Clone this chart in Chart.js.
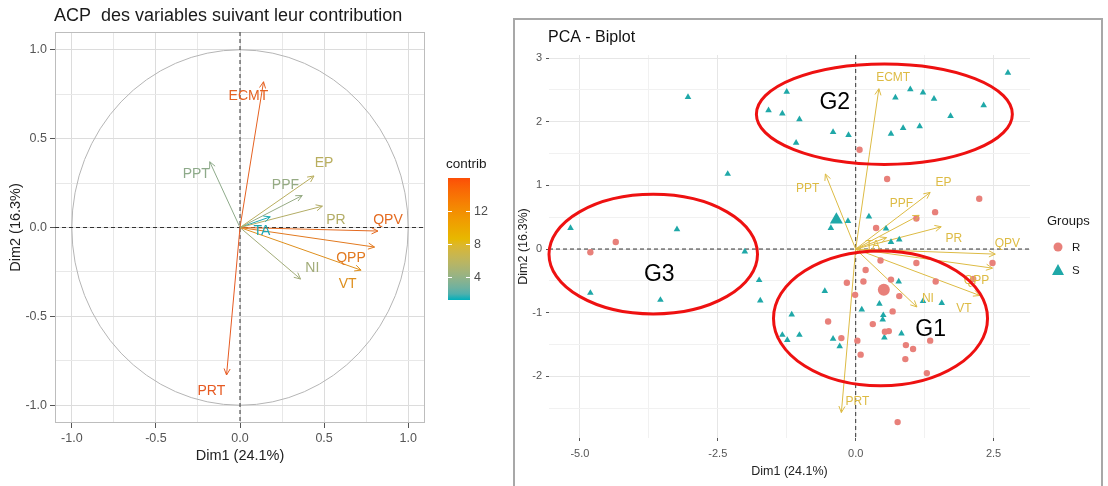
<!DOCTYPE html>
<html>
<head>
<meta charset="utf-8">
<script src="https://cdn.jsdelivr.net/npm/chart.js@4.4.0/dist/chart.umd.min.js"></script>
<style>
  body { margin: 0; background: #fff; width: 1108px; height: 486px; overflow: hidden; position: relative; }
  #boxAcp { position: absolute; left: 0; top: 0; width: 510px; height: 486px; }
  #boxBiplot { position: absolute; left: 513px; top: 18px; width: 586px; height: 468px;
               border: 2px solid #A8A8A8; border-bottom: none; }
</style>
</head>
<body>
<div id="boxAcp"><canvas id="chartAcp" width="510" height="486"></canvas></div>
<div id="boxBiplot"><canvas id="chartBiplot" width="586" height="468"></canvas></div>

<script>
// ---- cercle des correlations (gauche) ----
const variables = ['ECMT', 'PPT', 'EP', 'PPF', 'PR', 'TA', 'QPV', 'QPP', 'VT', 'NI', 'PRT'];
const dim1 = [0.14, -0.18, 0.44, 0.37, 0.49, 0.18, 0.82, 0.80, 0.72, 0.36, -0.08];
const dim2 = [0.82, 0.37, 0.29, 0.18, 0.12, 0.06, -0.02, -0.11, -0.24, -0.29, -0.83];
const contrib = [15.6, 3.8, 6.4, 4.2, 6.0, 1.2, 15.0, 13.8, 11.8, 4.9, 16.0];
const labelDim1 = [0.05, -0.26, 0.50, 0.27, 0.57, 0.13, 0.88, 0.66, 0.64, 0.43, -0.17];
const labelDim2 = [0.74, 0.30, 0.36, 0.24, 0.04, -0.02, 0.04, -0.17, -0.32, -0.23, -0.92];
const acpMajorTicks = [-1, -0.5, 0, 0.5, 1];
const acpMinorTicks = [-0.75, -0.25, 0.25, 0.75];
const contribTicks = [4, 8, 12];
const gradientCols = ['#00AFBB', '#E7B800', '#FC4E07'];

// ---- biplot (droite) ----
const rDim1 = [-4.81, -4.35, 0.07, 0.57, 2.24, 1.44, 1.10, 0.37, 2.48, 1.10, 0.45, 0.18, 0.14, -0.16, 0.64, 1.45, 2.13,
               -0.01, 0.79, 0.67, -0.50, 0.31, 0.60, 0.53, -0.26, 0.03, 1.35, 0.91, 1.04, 0.09, 0.90, 1.29, 0.76];
const rDim2 = [-0.05, 0.11, 1.56, 1.10, 0.79, 0.58, 0.48, 0.33, -0.22, -0.22, -0.18, -0.33, -0.51, -0.53, -0.48, -0.51, -0.47,
               -0.72, -0.74, -0.98, -1.14, -1.18, -1.29, -1.30, -1.40, -1.44, -1.44, -1.51, -1.57, -1.66, -1.73, -1.95, -2.72];
const sDim1 = [-5.17, -4.81, -3.54, -3.24, -3.04, -2.32, -2.01, -1.75, -1.73, -1.58, -1.33, -1.25, -1.02, -1.08, -0.41, -0.13,
               0.64, 0.72, 0.86, 0.99, 1.16, 1.22, 1.42, 1.72, 2.32, 2.76, -0.14, -0.45, 0.24, 0.55, 0.64, 0.79,
               -0.56, 0.78, 1.22, 1.56, 0.43, 0.11, -1.16, 0.50, 0.49, -1.33, -1.02, -1.24, 0.83, 0.52, -0.41, -0.29];
const sDim2 = [0.33, -0.69, -0.80, 0.31, 2.39, 1.18, -0.04, -0.49, -0.81, 2.18, 2.13, 2.47, 2.04, 1.67, 1.84, 1.79,
               1.81, 2.38, 1.90, 2.51, 1.93, 2.46, 2.36, 2.09, 2.26, 2.77, 0.44, 0.33, 0.51, 0.32, 0.11, 0.15,
               -0.66, -0.51, -0.82, -0.85, -0.86, -0.95, -1.03, -1.04, -1.11, -1.35, -1.35, -1.43, -1.33, -1.39, -1.41, -1.53];
const meanR = [0.51, -0.64];
const meanS = [-0.35, 0.46];
const bpDim1 = [0.42, -0.55, 1.35, 1.15, 1.55, 0.56, 2.53, 2.48, 2.25, 1.11, -0.26];
const bpDim2 = [2.52, 1.18, 0.89, 0.53, 0.35, 0.18, -0.08, -0.30, -0.73, -0.91, -2.57];
const bpLabelDim1 = [0.68, -0.87, 1.59, 0.83, 1.78, 0.31, 2.75, 2.19, 1.96, 1.31, 0.03];
const bpLabelDim2 = [2.70, 0.95, 1.04, 0.71, 0.16, 0.05, 0.08, -0.50, -0.93, -0.78, -2.40];
const bpXMajor = [-5, -2.5, 0, 2.5];
const bpXMinor = [-3.75, -1.25, 1.25];
const bpYMajor = [-2, -1, 0, 1, 2, 3];
const bpYMinor = [-2.5, -1.5, -0.5, 0.5, 1.5, 2.5];

// groupes entoures a la main
const groupNames = ['G1', 'G2', 'G3'];
const groupCx = [0.45, 0.52, -3.67];
const groupCy = [-1.09, 2.12, -0.08];
const groupRx = [1.94, 2.32, 1.89];
const groupRy = [1.06, 0.79, 0.94];
const groupLabelX = [1.36, -0.38, -3.56];
const groupLabelY = [-1.27, 2.30, -0.40];

const FONT = '"Liberation Sans", Arial, sans-serif';
Chart.defaults.font.family = FONT;

// interpolation des couleurs dans l'espace Lab (comme ggplot)
function toLin(c) { c /= 255; return c <= 0.04045 ? c / 12.92 : Math.pow((c + 0.055) / 1.055, 2.4); }
function fromLin(c) {
    const v = c <= 0.0031308 ? 12.92 * c : 1.055 * Math.pow(c, 1 / 2.4) - 0.055;
    return Math.round(Math.max(0, Math.min(1, v)) * 255);
}
function hexToLab(h) {
    const r = toLin(parseInt(h.slice(1, 3), 16)), g = toLin(parseInt(h.slice(3, 5), 16)), b = toLin(parseInt(h.slice(5, 7), 16));
    const X = (0.4124 * r + 0.3576 * g + 0.1805 * b) / 0.95047;
    const Y = 0.2126 * r + 0.7152 * g + 0.0722 * b;
    const Z = (0.0193 * r + 0.1192 * g + 0.9505 * b) / 1.08883;
    const f = t => t > 0.008856 ? Math.cbrt(t) : 7.787 * t + 16 / 116;
    return [116 * f(Y) - 16, 500 * (f(X) - f(Y)), 200 * (f(Y) - f(Z))];
}
function labToRgb(lab) {
    const fy = (lab[0] + 16) / 116, fx = fy + lab[1] / 500, fz = fy - lab[2] / 200;
    const inv = f => f * f * f > 0.008856 ? f * f * f : (f - 16 / 116) / 7.787;
    const X = inv(fx) * 0.95047, Y = inv(fy), Z = inv(fz) * 1.08883;
    return [
        fromLin(3.2406 * X - 1.5372 * Y - 0.4986 * Z),
        fromLin(-0.9689 * X + 1.8758 * Y + 0.0415 * Z),
        fromLin(0.0557 * X - 0.2040 * Y + 1.0570 * Z)
    ];
}
const gradientLab = gradientCols.map(hexToLab);

const cMin = Math.min(...contrib);
const cMax = Math.max(...contrib);

function gradientRgb(t) {
    t = Math.max(0, Math.min(1, t));
    const seg = t < 0.5 ? 0 : 1;
    const f = t < 0.5 ? t / 0.5 : (t - 0.5) / 0.5;
    const a = gradientLab[seg], b = gradientLab[seg + 1];
    return labToRgb(a.map((x, k) => x + (b[k] - x) * f));
}

function contribColor(v, mute) {
    const c = gradientRgb((v - cMin) / (cMax - cMin)).map(x => Math.round(x * (1 - mute) + 140 * mute));
    return `rgb(${c[0]},${c[1]},${c[2]})`;
}

function ticksFrom(major, minor) {
    return function (axis) {
        axis.ticks = major.concat(minor).sort((a, b) => a - b).map(v => ({ value: v }));
    };
}

function isMajor(list, v) {
    return list.some(m => Math.abs(m - v) < 1e-6);
}

function arrowHead(ctx, x0, y0, x1, y1, len, color) {
    const a = Math.atan2(y1 - y0, x1 - x0);
    ctx.beginPath();
    ctx.moveTo(x1 - len * Math.cos(a - 0.45), y1 - len * Math.sin(a - 0.45));
    ctx.lineTo(x1, y1);
    ctx.lineTo(x1 - len * Math.cos(a + 0.45), y1 - len * Math.sin(a + 0.45));
    ctx.strokeStyle = color;
    ctx.lineWidth = 1;
    ctx.stroke();
}

function zeroLines(chart) {
    const { ctx, chartArea, scales } = chart;
    const x0 = scales.x.getPixelForValue(0);
    const y0 = scales.y.getPixelForValue(0);
    ctx.save();
    ctx.strokeStyle = '#333';
    ctx.lineWidth = 1;
    ctx.setLineDash([4, 3]);
    ctx.beginPath();
    ctx.moveTo(chartArea.left, y0); ctx.lineTo(chartArea.right, y0);
    ctx.moveTo(x0, chartArea.top); ctx.lineTo(x0, chartArea.bottom);
    ctx.stroke();
    ctx.restore();
}

// ---------------- graphique de gauche ----------------
const MUTE = 0.2;

const acpPlugin = {
    id: 'acpExtras',
    beforeDatasetsDraw(chart) {
        const { ctx, chartArea, scales } = chart;
        const cx = scales.x.getPixelForValue(0), cy = scales.y.getPixelForValue(0);
        const rx = scales.x.getPixelForValue(1) - cx, ry = cy - scales.y.getPixelForValue(1);
        ctx.save();
        ctx.strokeStyle = '#BDBDBD';
        ctx.lineWidth = 1;
        ctx.strokeRect(chartArea.left + 0.5, chartArea.top + 0.5, chartArea.width - 1, chartArea.height - 1);
        ctx.strokeStyle = '#B5B5B5';
        ctx.beginPath();
        ctx.ellipse(cx, cy, rx, ry, 0, 0, Math.PI * 2);
        ctx.stroke();
        ctx.restore();
        zeroLines(chart);
    },
    afterDatasetsDraw(chart) {
        const { ctx, scales } = chart;
        const x0 = scales.x.getPixelForValue(0), y0 = scales.y.getPixelForValue(0);
        ctx.save();
        variables.forEach((v, i) => {
            const col = contribColor(contrib[i], MUTE);
            arrowHead(ctx, x0, y0, scales.x.getPixelForValue(dim1[i]), scales.y.getPixelForValue(dim2[i]), 7, col);
            ctx.fillStyle = col;
            ctx.font = '14px ' + FONT;
            ctx.textAlign = 'center';
            ctx.textBaseline = 'middle';
            ctx.fillText(v, scales.x.getPixelForValue(labelDim1[i]), scales.y.getPixelForValue(labelDim2[i]));
        });

        // titre
        ctx.fillStyle = '#1a1a1a';
        ctx.font = '18px ' + FONT;
        ctx.textAlign = 'left';
        ctx.fillText('ACP  des variables suivant leur contribution', 54, 16);

        // barre de couleur contrib
        const barL = 448, barW = 22, barTop = 178, barBot = 300;
        const vy = v => barBot - (v - cMin) / (cMax - cMin) * (barBot - barTop);
        const g = ctx.createLinearGradient(0, barBot, 0, barTop);
        for (let k = 0; k <= 20; k++) {
            const c = gradientRgb(k / 20);
            g.addColorStop(k / 20, `rgb(${c[0]},${c[1]},${c[2]})`);
        }
        ctx.fillStyle = g;
        ctx.fillRect(barL, barTop, barW, barBot - barTop);
        ctx.strokeStyle = '#fff';
        ctx.lineWidth = 1;
        ctx.font = '12.5px ' + FONT;
        contribTicks.forEach(t => {
            const y = Math.round(vy(t)) + 0.5;
            ctx.beginPath();
            ctx.moveTo(barL, y); ctx.lineTo(barL + 4, y);
            ctx.moveTo(barL + barW - 4, y); ctx.lineTo(barL + barW, y);
            ctx.stroke();
            ctx.fillStyle = '#4D4D4D';
            ctx.fillText(String(t), barL + barW + 4, y);
        });
        ctx.fillStyle = '#1a1a1a';
        ctx.font = '13.5px ' + FONT;
        ctx.fillText('contrib', barL - 2, 164);
        ctx.restore();
    }
};

function acpAxis(title, isX) {
    return {
        type: 'linear',
        min: -1.1,
        max: 1.1,
        afterBuildTicks: ticksFrom(acpMajorTicks, acpMinorTicks),
        afterFit: isX ? (a => { a.height = 63; }) : (a => { a.width = 55; }),
        border: { display: false },
        grid: {
            color: c => isMajor(acpMajorTicks, c.tick.value) ? '#DCDCDC' : '#E8E8E8',
            lineWidth: 1,
            tickLength: 5,
            tickColor: c => isMajor(acpMajorTicks, c.tick.value) ? '#555' : 'rgba(0,0,0,0)'
        },
        ticks: {
            color: '#555',
            font: { size: 12.5 },
            padding: 3,
            maxRotation: 0,
            autoSkip: false,
            callback: v => isMajor(acpMajorTicks, v) ? v.toFixed(1) : ''
        },
        title: {
            display: true,
            text: title,
            color: '#222',
            font: { size: 14.5 },
            padding: isX ? { top: 0, bottom: 21 } : { top: 7, bottom: 0 }
        }
    };
}

new Chart(document.getElementById('chartAcp'), {
    type: 'scatter',
    data: {
        datasets: variables.map((v, i) => ({
            label: v,
            data: [{ x: 0, y: 0 }, { x: dim1[i], y: dim2[i] }],
            showLine: true,
            borderColor: contribColor(contrib[i], MUTE),
            borderWidth: 1,
            pointRadius: 0
        }))
    },
    options: {
        responsive: false,
        animation: false,
        layout: { padding: { left: 0, right: 85, top: 32, bottom: 0 } },
        plugins: { legend: { display: false }, tooltip: { enabled: false } },
        scales: {
            x: acpAxis('Dim1 (24.1%)', true),
            y: acpAxis('Dim2 (16.3%)', false)
        }
    },
    plugins: [acpPlugin]
});

// ---------------- biplot ----------------
const colR = '#E8807A';
const colS = '#1FA8A8';
const colVar = '#DDBB44';

const biplotPlugin = {
    id: 'biplotExtras',
    beforeDatasetsDraw(chart) {
        zeroLines(chart);
    },
    afterDatasetsDraw(chart) {
        const { ctx, scales } = chart;
        const px = v => scales.x.getPixelForValue(v);
        const py = v => scales.y.getPixelForValue(v);
        ctx.save();
        variables.forEach((v, i) => {
            arrowHead(ctx, px(0), py(0), px(bpDim1[i]), py(bpDim2[i]), 7, colVar);
            ctx.fillStyle = colVar;
            ctx.font = '12px ' + FONT;
            ctx.textAlign = 'center';
            ctx.textBaseline = 'middle';
            ctx.fillText(v, px(bpLabelDim1[i]), py(bpLabelDim2[i]));
        });

        // ellipses rouges
        ctx.strokeStyle = '#EE1111';
        ctx.lineWidth = 3;
        groupNames.forEach((g, i) => {
            const cx = px(groupCx[i]), cy = py(groupCy[i]);
            const rx = px(groupCx[i] + groupRx[i]) - cx;
            const ry = cy - py(groupCy[i] + groupRy[i]);
            ctx.beginPath();
            ctx.ellipse(cx, cy, rx, ry, 0, 0, Math.PI * 2);
            ctx.stroke();
        });
        ctx.fillStyle = '#000';
        ctx.font = '23px ' + FONT;
        ctx.textAlign = 'center';
        groupNames.forEach((g, i) => ctx.fillText(g, px(groupLabelX[i]), py(groupLabelY[i])));

        // titre
        ctx.textAlign = 'left';
        ctx.font = '16px ' + FONT;
        ctx.fillStyle = '#111';
        ctx.fillText('PCA - Biplot', 33, 18);

        // legende
        ctx.font = '13px ' + FONT;
        ctx.fillStyle = '#1a1a1a';
        ctx.fillText('Groups', 532, 201);
        ctx.font = '11.5px ' + FONT;
        ctx.fillText('R', 557, 228);
        ctx.fillText('S', 557, 251);
        ctx.fillStyle = colR;
        ctx.beginPath();
        ctx.arc(543, 227, 4.5, 0, Math.PI * 2);
        ctx.fill();
        ctx.fillStyle = colS;
        ctx.beginPath();
        ctx.moveTo(543, 244); ctx.lineTo(549, 255); ctx.lineTo(537, 255);
        ctx.closePath();
        ctx.fill();
        ctx.restore();
    }
};

function bpAxis(major, minor, range, title, isX, fmt) {
    return {
        type: 'linear',
        min: range[0],
        max: range[1],
        afterBuildTicks: ticksFrom(major, minor),
        afterFit: isX ? (a => { a.height = 50; }) : (a => { a.width = 34; }),
        border: { display: false },
        grid: {
            color: c => isMajor(major, c.tick.value) ? '#E6E6E6' : '#F1F1F1',
            lineWidth: 1,
            tickLength: 3,
            tickColor: c => isMajor(major, c.tick.value) ? '#555' : 'rgba(0,0,0,0)'
        },
        ticks: {
            color: '#555',
            font: { size: 11 },
            padding: isX ? 6 : 4,
            maxRotation: 0,
            autoSkip: false,
            callback: v => isMajor(major, v) ? fmt(v) : ''
        },
        title: {
            display: true,
            text: title,
            color: '#222',
            font: { size: 12.5 },
            padding: isX ? { top: 0, bottom: 9 } : { top: 1, bottom: 0 }
        }
    };
}

new Chart(document.getElementById('chartBiplot'), {
    type: 'scatter',
    data: {
        datasets: [
            {
                label: 'R',
                data: rDim1.map((x, i) => ({ x: x, y: rDim2[i] })),
                backgroundColor: colR, borderColor: colR, pointStyle: 'circle', pointRadius: 3.2, borderWidth: 0
            },
            {
                label: 'S',
                data: sDim1.map((x, i) => ({ x: x, y: sDim2[i] })),
                backgroundColor: colS, borderColor: colS, pointStyle: 'triangle', pointRadius: 3.8, borderWidth: 0
            },
            {
                label: 'R moyenne',
                data: [{ x: meanR[0], y: meanR[1] }],
                backgroundColor: colR, borderColor: colR, pointStyle: 'circle', pointRadius: 6, borderWidth: 0
            },
            {
                label: 'S moyenne',
                data: [{ x: meanS[0], y: meanS[1] }],
                backgroundColor: colS, borderColor: colS, pointStyle: 'triangle', pointRadius: 7.5, borderWidth: 0
            },
            ...variables.map((v, i) => ({
                label: v,
                data: [{ x: 0, y: 0 }, { x: bpDim1[i], y: bpDim2[i] }],
                showLine: true,
                borderColor: colVar,
                borderWidth: 1,
                pointRadius: 0
            }))
        ]
    },
    options: {
        responsive: false,
        animation: false,
        layout: { padding: { left: 0, right: 71, top: 35, bottom: 0 } },
        plugins: { legend: { display: false }, tooltip: { enabled: false } },
        scales: {
            x: bpAxis(bpXMajor, bpXMinor, [-5.56, 3.16], 'Dim1 (24.1%)', true, v => v.toFixed(1)),
            y: bpAxis(bpYMajor, bpYMinor, [-2.97, 3.05], 'Dim2 (16.3%)', false, v => String(v))
        }
    },
    plugins: [biplotPlugin]
});
</script>
</body>
</html>
